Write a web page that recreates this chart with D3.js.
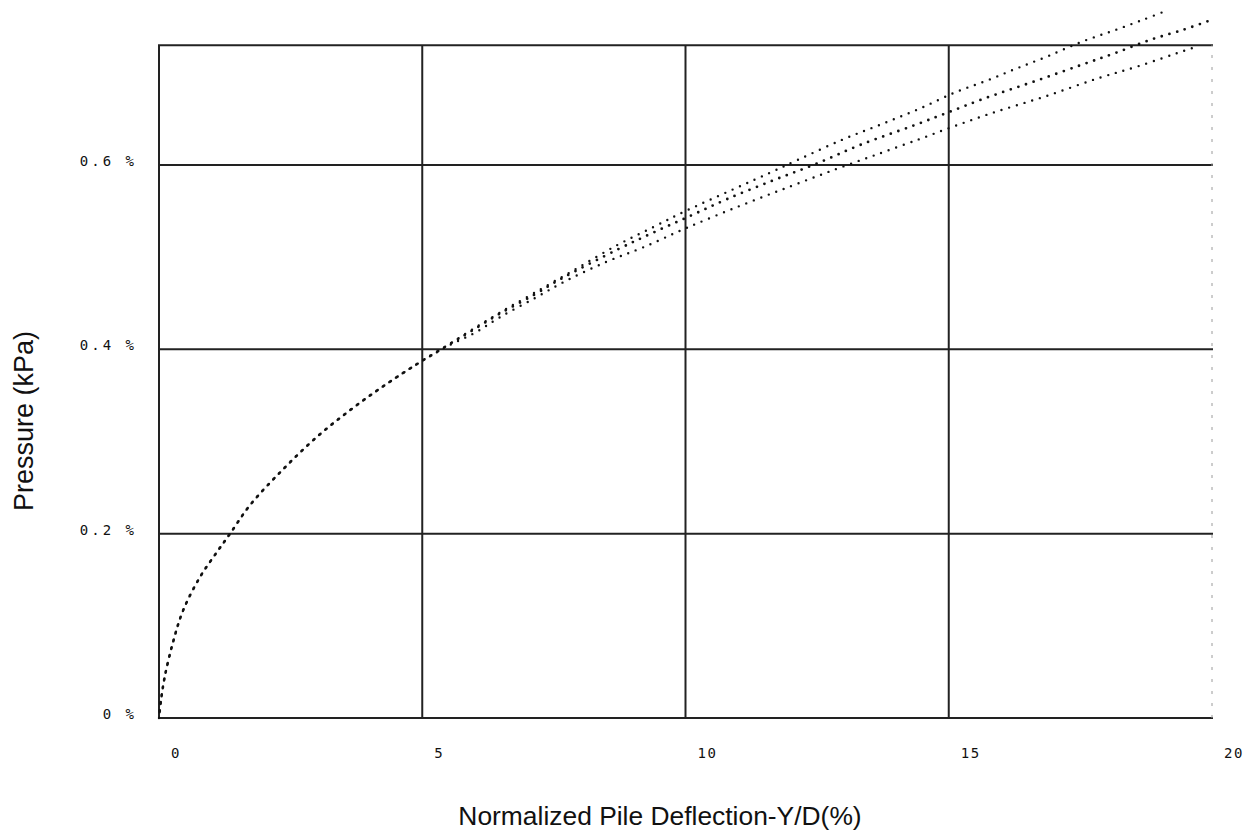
<!DOCTYPE html>
<html><head><meta charset="utf-8">
<script src="https://cdn.jsdelivr.net/npm/d3@7"></script>
<style>body{margin:0;background:#fff}svg{display:block}</style>
</head><body><svg id="c" width="1256" height="834"></svg>
<script>
// ---- data ----
const xTicks = [0, 5, 10, 15, 20];
const xTickLabels = ["0", "5", "10", "15", "20"];
const yTicks = [0, 0.2, 0.4, 0.6];
const yTickLabels = ["0 %", "0.2 %", "0.4 %", "0.6 %"];
const yTop = 0.73;
const xTitle = "Normalized Pile Deflection-Y/D(%)";
const yTitle = "Pressure (kPa)";

const upperX = [0, 0.04, 0.11, 0.27, 0.46, 0.78, 1.10, 1.35, 1.73, 2.36, 3.0, 3.63, 4.26, 4.90, 5.47, 5.91, 6.48, 7.12, 7.88, 8.70, 9.40, 10.0, 10.92, 11.62, 12.15, 13.0, 13.71, 14.44, 15.13, 15.74, 16.3, 16.88, 17.54, 18.14, 18.71, 19.16];
const upperP = [0, 0.02, 0.045, 0.083, 0.117, 0.153, 0.180, 0.200, 0.231, 0.270, 0.305, 0.334, 0.360, 0.384, 0.404, 0.420, 0.440, 0.461, 0.486, 0.513, 0.533, 0.550, 0.574, 0.592, 0.606, 0.628, 0.644, 0.661, 0.679, 0.692, 0.705, 0.718, 0.734, 0.746, 0.758, 0.768];

const middleX = [0, 0.04, 0.11, 0.27, 0.46, 0.78, 1.10, 1.35, 1.73, 2.36, 3.0, 3.63, 4.26, 4.90, 5.47, 5.91, 6.48, 7.12, 7.62, 8.70, 9.40, 10.10, 10.79, 11.65, 12.47, 13.33, 14.34, 14.94, 15.67, 16.69, 17.54, 18.14, 18.84, 19.47, 19.92];
const middleP = [0, 0.02, 0.045, 0.083, 0.117, 0.153, 0.180, 0.200, 0.231, 0.270, 0.305, 0.334, 0.360, 0.384, 0.404, 0.419, 0.439, 0.459, 0.476, 0.508, 0.527, 0.545, 0.563, 0.583, 0.601, 0.622, 0.643, 0.656, 0.672, 0.692, 0.709, 0.721, 0.736, 0.747, 0.756];

const lowerX = [0, 0.04, 0.11, 0.27, 0.46, 0.78, 1.10, 1.35, 1.73, 2.36, 3.0, 3.63, 4.26, 4.90, 5.47, 6.0, 6.48, 7.12, 7.72, 8.50, 9.21, 10.03, 11.05, 12.0, 12.88, 13.71, 14.44, 14.91, 15.8, 16.81, 17.83, 18.59, 19.47, 19.63];
const lowerP = [0, 0.02, 0.045, 0.083, 0.117, 0.153, 0.180, 0.200, 0.231, 0.270, 0.305, 0.334, 0.360, 0.384, 0.403, 0.418, 0.435, 0.455, 0.474, 0.495, 0.511, 0.532, 0.556, 0.577, 0.596, 0.613, 0.628, 0.638, 0.656, 0.674, 0.694, 0.707, 0.724, 0.727];

// ---- drawing ----
const svg = d3.select("#c");
const x = d3.scaleLinear().domain([0, 20]).range([159, 1212]);
const y = d3.scaleLinear().domain([0, 0.6]).range([718, 165]);

const grid = svg.append("g").attr("stroke", "#222").attr("stroke-width", 2).attr("fill", "none");
yTicks.concat([yTop]).forEach(v => {
  grid.append("line").attr("x1", x(0) - 1).attr("x2", x(20) + 1).attr("y1", y(v)).attr("y2", y(v));
});
xTicks.forEach(v => {
  const l = grid.append("line").attr("x1", x(v)).attr("x2", x(v)).attr("y1", y(0)).attr("y2", y(yTop));
  if (v === 20) l.attr("stroke", "#9a9a9a").attr("stroke-width", 1).attr("stroke-dasharray", "3 9");
});

const mono = "'DejaVu Sans Mono', 'Liberation Mono', monospace";
svg.append("g").selectAll("text").data(xTicks).join("text")
  .attr("x", d => x(d) + 12).attr("y", 758)
  .attr("font-family", mono).attr("font-size", 14).attr("letter-spacing", 1.5)
  .attr("fill", "#111")
  .text((d, i) => xTickLabels[i]);

svg.append("g").selectAll("text").data(yTicks).join("text")
  .attr("x", 137).attr("y", d => y(d) + 1)
  .attr("text-anchor", "end")
  .attr("font-family", mono).attr("font-size", 14).attr("letter-spacing", 3)
  .attr("fill", "#111")
  .text((d, i) => yTickLabels[i]);

svg.append("text").attr("x", 660).attr("y", 825).attr("text-anchor", "middle")
  .attr("font-family", "'Liberation Sans', Arial, sans-serif").attr("font-size", 26.4)
  .attr("fill", "#111").text(xTitle);
svg.append("text").attr("transform", "translate(33,421) rotate(-90)").attr("text-anchor", "middle")
  .attr("font-family", "'Liberation Sans', Arial, sans-serif").attr("font-size", 27)
  .attr("fill", "#111").text(yTitle);

const line = d3.line().x(d => x(d[0])).y(d => y(d[1])).curve(d3.curveCatmullRom);
const series = [
  {xs: upperX, ps: upperP, w: 2.4, off: 0},
  {xs: middleX, ps: middleP, w: 2.8, off: 1},
  {xs: lowerX, ps: lowerP, w: 2.4, off: 2}
];
series.forEach(s => {
  svg.append("path")
    .datum(s.xs.map((v, i) => [v, s.ps[i]]))
    .attr("d", line)
    .attr("fill", "none").attr("stroke", "#111")
    .attr("stroke-width", s.w).attr("stroke-linecap", "round")
    .attr("stroke-dasharray", "0 8").attr("stroke-dashoffset", s.off);
});
</script></body></html>
